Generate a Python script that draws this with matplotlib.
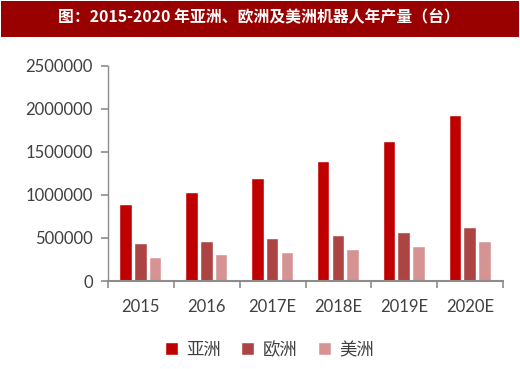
import numpy as np
import matplotlib
matplotlib.use('Agg')
import matplotlib.pyplot as plt
from matplotlib.patches import Rectangle

plt.rcParams['font.family'] = ['Lato', 'Noto Sans CJK SC', 'DejaVu Sans']

# === Data ===
years = ['2015', '2016', '2017E', '2018E', '2019E', '2020E']
asia = [886000, 1022000, 1185000, 1379000, 1617000, 1915000]
europe = [435000, 458000, 493000, 524000, 563000, 614000]
america = [272000, 299000, 323000, 358000, 396000, 451000]
series_names = ['亚洲', '欧洲', '美洲']
title = '图：2015-2020 年亚洲、欧洲及美洲机器人年产量（台）'

colors = ['#C00000', '#AD4444', '#D69393']
text_color = '#404040'
axis_color = '#8C8C8C'

fig = plt.figure(figsize=(5.2, 3.69), dpi=100)

# title banner
fig.patches.append(Rectangle((0.002, 1 - 37 / 369), 0.996, 36 / 369, transform=fig.transFigure,
                             facecolor='#990000', edgecolor='none', zorder=0))
fig.text(0.497, 1 - 17 / 369, title, ha='center', va='center', color='white',
         fontsize=11.4, fontweight='bold', family=['Noto Sans CJK SC', 'DejaVu Sans'])

ax = fig.add_axes([108 / 520, 1 - 281 / 369, 395 / 520, 215.3 / 369])

x = np.arange(len(years))
width = 0.175
step = 0.223
for k, vals in enumerate([asia, europe, america]):
    ax.bar(x + (k - 1) * step, vals, width, color=colors[k], label=series_names[k],
           edgecolor='white', linewidth=0.3, zorder=2)

ax.set_xlim(-0.5, len(years) - 0.5)
ax.set_ylim(0, 2500000)
ax.set_yticks(np.arange(0, 2500001, 500000))
ax.set_yticklabels([str(v) for v in range(0, 2500001, 500000)])

# category ticks at boundaries, labels at centers
ax.set_xticks(np.arange(-0.5, len(years), 1.0))
ax.set_xticklabels([])
ax.set_xticks(x, minor=True)
ax.set_xticklabels(years, minor=True)
ax.tick_params(axis='x', which='minor', length=0, pad=13, labelsize=12, labelcolor=text_color)
ax.tick_params(axis='x', which='major', length=5, width=1.2, color=axis_color, direction='out')
ax.tick_params(axis='y', length=5, width=1.2, color=axis_color, direction='out',
               labelsize=12, labelcolor=text_color, pad=6)

for side in ['top', 'right']:
    ax.spines[side].set_visible(False)
ax.spines['left'].set_color(axis_color)
ax.spines['bottom'].set_color(axis_color)
ax.spines['left'].set_linewidth(1.0)
ax.spines['bottom'].set_linewidth(1.5)

leg = fig.legend(loc='center', bbox_to_anchor=(270 / 520, 1 - 350 / 369), ncol=3, frameon=False,
                 handlelength=0.7, handleheight=0.7, handletextpad=0.5, columnspacing=1.2,
                 prop={'family': ['Noto Sans CJK SC', 'DejaVu Sans'], 'size': 12.5})
for t in leg.get_texts():
    t.set_color(text_color)

fig.savefig('out.png', dpi=100)
